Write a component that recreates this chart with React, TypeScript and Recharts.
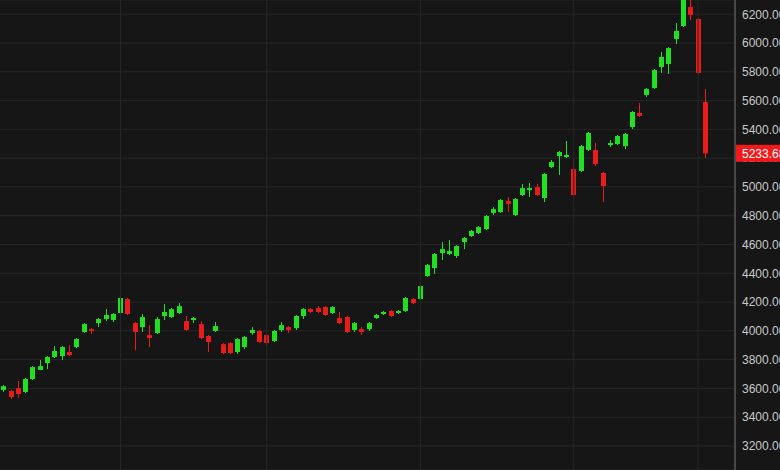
import React from 'react';
import {
  ComposedChart,
  Bar,
  XAxis,
  YAxis,
  CartesianGrid,
  ReferenceLine,
} from 'recharts';

// weekly candles (oldest first)
const opens = [
  3589, 3582, 3602, 3575, 3665, 3728, 3776, 3818, 3825, 3853, 3887, 3992, 4012, 4054, 4082, 4075,
  4124, 4221, 4054, 4026, 3971, 3985, 4103, 4096, 4124, 4068, 4075, 4047, 3964, 3999, 3908, 3915,
  3853, 3887, 3985, 3999, 3971, 3929, 4006, 4026, 4019, 4103, 4151, 4158, 4165, 4124, 4089, 4096,
  4006, 4012, 4012, 4089, 4117, 4138, 4124, 4138, 4221, 4221, 4381, 4436, 4541, 4534, 4520, 4617,
  4659, 4680, 4707, 4819, 4826, 4902, 4805, 4944, 4978, 4999, 4923, 5138, 5215, 5208, 5124, 5111,
  5257, 5257, 5097, 5291, 5298, 5284, 5416, 5514, 5639, 5687, 5833, 5854, 6028, 6118, 6250, 6167,
  5590,
];
const highs = [
  3623, 3589, 3651, 3672, 3755, 3797, 3825, 3894, 3894, 3901, 3950, 4054, 4019, 4089, 4151, 4124,
  4235, 4228, 4061, 4117, 4040, 4096, 4186, 4158, 4193, 4103, 4096, 4068, 3971, 4061, 3915, 3922,
  3950, 3964, 4026, 4006, 3978, 4006, 4061, 4033, 4110, 4158, 4158, 4172, 4172, 4172, 4131, 4103,
  4061, 4026, 4061, 4117, 4138, 4144, 4144, 4235, 4228, 4318, 4464, 4541, 4617, 4631, 4596, 4652,
  4701, 4728, 4805, 4860, 4916, 4930, 4923, 5020, 5027, 5020, 5097, 5187, 5250, 5319, 5194, 5291,
  5382, 5305, 5104, 5326, 5361, 5375, 5528, 5583, 5687, 5819, 5938, 5972, 6139, 6340, 6313, 6174,
  5681,
];
const lows = [
  3575, 3526, 3533, 3568, 3658, 3728, 3734, 3811, 3797, 3825, 3880, 3985, 3978, 4026, 4068, 4061,
  4117, 4110, 3866, 3992, 3887, 3978, 4075, 4089, 4117, 3999, 4054, 3943, 3853, 3992, 3839, 3839,
  3839, 3873, 3971, 3915, 3901, 3922, 3992, 3985, 4006, 4082, 4124, 4124, 4103, 4117, 4047, 3985,
  3992, 3971, 3999, 4082, 4110, 4096, 4117, 4131, 4186, 4214, 4374, 4395, 4492, 4527, 4506, 4568,
  4652, 4673, 4701, 4805, 4819, 4826, 4798, 4937, 4930, 4937, 4895, 5131, 5083, 5201, 4937, 5104,
  5250, 5145, 4895, 5277, 5291, 5263, 5402, 5486, 5625, 5681, 5792, 5785, 5993, 6111, 6160, 5785,
  5201,
];
const closes = [
  3616, 3540, 3561, 3665, 3748, 3755, 3818, 3860, 3887, 3832, 3943, 4047, 3999, 4082, 4110, 4117,
  4228, 4117, 3992, 4096, 3950, 4082, 4131, 4151, 4172, 4006, 4089, 3950, 3922, 4033, 3846, 3846,
  3943, 3957, 4006, 3922, 3915, 3999, 4040, 4006, 4103, 4151, 4131, 4131, 4110, 4165, 4054, 3992,
  4054, 3992, 4054, 4110, 4131, 4103, 4138, 4228, 4193, 4311, 4457, 4534, 4568, 4555, 4589, 4645,
  4694, 4721, 4798, 4846, 4909, 4881, 4916, 4992, 4992, 4944, 5090, 5173, 5243, 5222, 4944, 5284,
  5375, 5159, 5006, 5305, 5354, 5368, 5521, 5493, 5681, 5812, 5903, 5965, 6084, 6327, 6195, 5792,
  5233.68,
];

const gridWeeks = [16, 36, 57, 78, 95];
const yTicks = [3200, 3400, 3600, 3800, 4000, 4200, 4400, 4600, 4800, 5000, 5200, 5400, 5600, 5800, 6000, 6200];
const lastPrice = 5233.68;

const GREEN = '#21e021';
const RED = '#ea1b1b';
const BG = '#161616';
const GRID = '#272727';

const chartData = opens.map((o, i) => ({
  i,
  o,
  h: highs[i],
  l: lows[i],
  c: closes[i],
  range: [lows[i], highs[i]],
}));

const Candle = (props: any) => {
  const { x, y, width, height, payload } = props;
  const { o, h, l, c } = payload;
  const color = c >= o ? GREEN : RED;
  const ratio = h - l === 0 ? 0 : height / (h - l);
  const mid = Math.floor(x + width / 2);
  const bodyTop = y + (h - Math.max(o, c)) * ratio;
  const bodyH = Math.max(1.5, Math.abs(o - c) * ratio);
  return (
    <g>
      <line x1={mid + 0.5} x2={mid + 0.5} y1={y} y2={y + height} stroke={color} strokeWidth={1} />
      <rect x={mid - 2} y={bodyTop} width={5} height={bodyH} fill={color} />
    </g>
  );
};

const PriceTag = (props: any) => {
  const { viewBox } = props;
  const left = viewBox.x + viewBox.width + 1;
  const cy = viewBox.y;
  return (
    <g>
      <rect x={left} y={cy - 8.5} width={50} height={17} fill="#f01a1a" />
      <text
        x={left + 6}
        y={cy + 4.5}
        fill="#ffffff"
        fontSize={12}
        fontFamily="'Liberation Sans', Arial, sans-serif"
      >
        {lastPrice.toFixed(2)}
      </text>
    </g>
  );
};

export default function App() {
  return (
    <div style={{ position: 'absolute', left: 0, top: 0, width: 780, height: 470, background: BG }}>
      <ComposedChart
        width={780}
        height={470}
        data={chartData}
        margin={{ top: 0, right: 0, bottom: 0, left: 0 }}
      >
        <CartesianGrid stroke={GRID} vertical={false} />
        <XAxis dataKey="i" hide padding={{ left: 0, right: 26 }} />
        <YAxis
          orientation="right"
          width={45}
          domain={[3033, 6299]}
          ticks={yTicks}
          allowDataOverflow
          axisLine={{ stroke: '#7a7a7a' }}
          tickLine={false}
          tickSize={4}
          tickMargin={3}
          tick={{ fill: '#c8c8c8', fontSize: 12, fontFamily: "'Liberation Sans', Arial, sans-serif", textAnchor: 'start' }}
          tickFormatter={(v: number) => v.toFixed(2)}
        />
        {gridWeeks.map((w) => (
          <ReferenceLine key={w} x={w} stroke={GRID} />
        ))}
        <Bar dataKey="range" shape={<Candle />} isAnimationActive={false} />
        <ReferenceLine y={lastPrice} strokeOpacity={0} zIndex={3000} label={<PriceTag />} />
      </ComposedChart>
    </div>
  );
}
